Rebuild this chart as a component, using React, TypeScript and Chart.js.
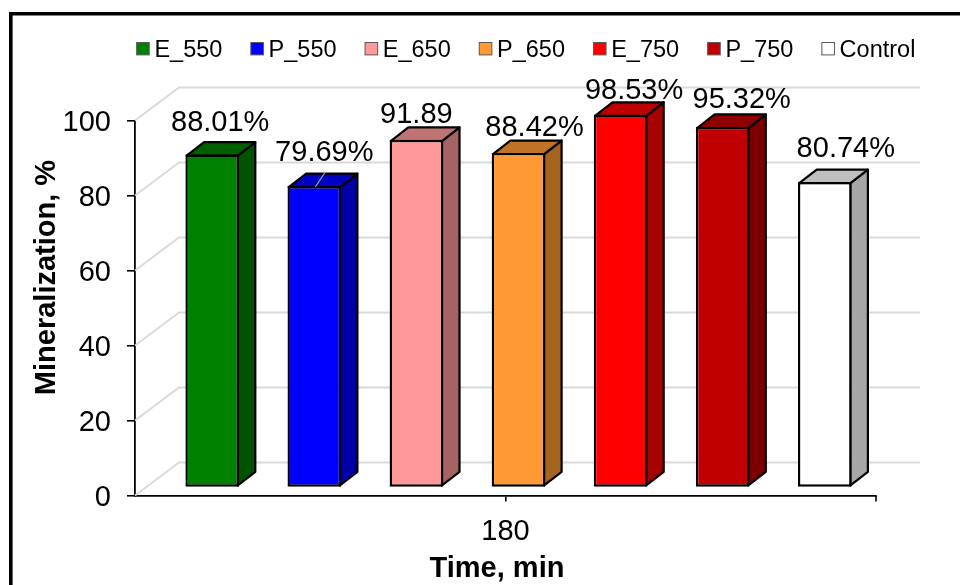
import React, { useEffect, useRef } from "react";
import { Chart, registerables } from "chart.js";

Chart.register(...registerables);

const categories = ["180"];
const seriesNames = ["E_550", "P_550", "E_650", "P_650", "E_750", "P_750", "Control"];
const seriesValues = [88.01, 79.69, 91.89, 88.42, 98.53, 95.32, 80.74];
const valueLabels = ["88.01%", "79.69%", "91.89", "88.42%", "98.53%", "95.32%", "80.74%"];
const frontColors = ["#008000", "#0000FF", "#FF9999", "#FF9933", "#FF0000", "#C00000", "#FFFFFF"];
const topColors = ["#006000", "#0000C0", "#C07373", "#BF7326", "#BF0000", "#900000", "#BFBFBF"];
const sideColors = ["#005300", "#0000A6", "#A66363", "#A66421", "#A60000", "#7D0000", "#A6A6A6"];
const labelShiftX = [8, 10, 0, 16, 13.5, 19, 21];
const labelShiftY = [-32, -34, -26, -26, -25, -28, -34];
const yTicks = [0, 20, 40, 60, 80, 100];

const FONT = "'Liberation Sans', Arial, sans-serif";
const BAR_DX = 13;
const BAR_DY = 8;
const BAR_K = 1.009;
const DEPTH_X = 17.5;
const DEPTH_Y = 13.5;
const WALL_X = 44;
const WALL_Y = 33;
const LEGEND_SHIFT = 46;
const LEGEND_PAD = 28.5;
const LEGEND_FONT = 23.5;

function barTransform(ctx: CanvasRenderingContext2D, base: number) {
  ctx.translate(BAR_DX, -BAR_DY);
  ctx.translate(0, base);
  ctx.scale(1, BAR_K);
  ctx.translate(0, -base);
}

const pseudo3d = {
  id: "pseudo3d",
  beforeLayout(chart: any) {
    const legend = chart.legend;
    if (legend && !legend.__sized) {
      legend.__sized = true;
      const orig = legend.fit.bind(legend);
      legend.fit = () => {
        orig();
        legend.height = 110.25;
      };
    }
  },
  afterLayout(chart: any) {
    const legend = chart.legend;
    legend.left = LEGEND_SHIFT;
    legend.right = chart.width + LEGEND_SHIFT;
    const y = chart.scales.y;
    const x = chart.scales.x;
    if (!y.__titled) {
      y.__titled = true;
      const oy = y.drawTitle.bind(y);
      y.drawTitle = () => {
        const { top, bottom } = y;
        y.top = top - 30.5;
        y.bottom = bottom - 30.5;
        oy();
        y.top = top;
        y.bottom = bottom;
      };
      const oyl = y.drawLabels.bind(y);
      y.drawLabels = (area: any) => {
        chart.ctx.save();
        chart.ctx.translate(0, 2.5);
        oyl(area);
        chart.ctx.restore();
      };
      const ox = x.drawTitle.bind(x);
      x.drawTitle = () => {
        const { left, right, bottom } = x;
        x.left = left - 8.5;
        x.right = right - 8.5;
        x.bottom = bottom + 3;
        ox();
        x.left = left;
        x.right = right;
        x.bottom = bottom;
      };
    }
  },
  beforeDraw(chart: any) {
    const { ctx, width, height } = chart;
    ctx.save();
    ctx.strokeStyle = "#000";
    ctx.lineWidth = 3.6;
    ctx.lineCap = "butt";
    ctx.beginPath();
    ctx.moveTo(10.8, height);
    ctx.lineTo(10.8, 13.8);
    ctx.lineTo(width, 13.8);
    ctx.stroke();
    ctx.restore();
  },
  beforeDatasetsDraw(chart: any) {
    const { ctx, chartArea, scales } = chart;
    ctx.save();
    ctx.strokeStyle = "#D9D9D9";
    ctx.lineWidth = 1.8;
    yTicks.forEach((v) => {
      const py = scales.y.getPixelForValue(v);
      ctx.beginPath();
      ctx.moveTo(chartArea.left, py);
      ctx.lineTo(chartArea.left + WALL_X, py - WALL_Y);
      ctx.lineTo(chartArea.right + WALL_X, py - WALL_Y);
      ctx.stroke();
    });
    ctx.restore();
  },
  beforeDatasetDraw(chart: any, args: any) {
    const { ctx } = chart;
    const i = args.index;
    const bar = args.meta.data[0].getProps(["x", "y", "base", "width"], true);
    ctx.save();
    barTransform(ctx, bar.base);
    const x1 = bar.x - bar.width / 2 + 1.2;
    const x2 = bar.x + bar.width / 2 - 1.2;
    const t = bar.y + 1.2;
    const b = bar.base - 1.2;
    ctx.lineWidth = 2.2;
    ctx.strokeStyle = "#000";
    ctx.lineJoin = "round";
    ctx.fillStyle = sideColors[i];
    ctx.beginPath();
    ctx.moveTo(x2, t);
    ctx.lineTo(x2 + DEPTH_X, t - DEPTH_Y);
    ctx.lineTo(x2 + DEPTH_X, b - DEPTH_Y);
    ctx.lineTo(x2, b);
    ctx.closePath();
    ctx.fill();
    ctx.stroke();
    ctx.fillStyle = topColors[i];
    ctx.beginPath();
    ctx.moveTo(x1, t);
    ctx.lineTo(x1 + DEPTH_X, t - DEPTH_Y);
    ctx.lineTo(x2 + DEPTH_X, t - DEPTH_Y);
    ctx.lineTo(x2, t);
    ctx.closePath();
    ctx.fill();
    ctx.stroke();
  },
  afterDatasetDraw(chart: any) {
    chart.ctx.restore();
  },
  afterDatasetsDraw(chart: any) {
    const { ctx, chartArea } = chart;
    ctx.save();
    // leader line of the one displaced label
    const lead = chart.getDatasetMeta(1).data[0].getProps(["x", "y", "base"], true);
    const leadTop = lead.base - BAR_DY + (lead.y - lead.base) * BAR_K;
    ctx.strokeStyle = "#A6A6A6";
    ctx.lineWidth = 1.2;
    ctx.beginPath();
    ctx.moveTo(lead.x + BAR_DX + 1, leadTop + 1);
    ctx.lineTo(lead.x + BAR_DX + 11, leadTop - 14);
    ctx.stroke();
    // value labels
    ctx.fillStyle = "#000";
    ctx.font = `29px ${FONT}`;
    ctx.textAlign = "center";
    ctx.textBaseline = "middle";
    seriesValues.forEach((_, i) => {
      const bar = chart.getDatasetMeta(i).data[0].getProps(["x", "y", "base"], true);
      const top = bar.base - BAR_DY + (bar.y - bar.base) * BAR_K;
      ctx.fillText(valueLabels[i], bar.x + BAR_DX + labelShiftX[i], top + labelShiftY[i] + 1);
    });
    // tick at the right end of the category axis
    ctx.strokeStyle = "#000";
    ctx.lineWidth = 1.6;
    ctx.beginPath();
    ctx.moveTo(chartArea.right, chartArea.bottom);
    ctx.lineTo(chartArea.right, chartArea.bottom + 6);
    ctx.stroke();
    // legend swatches, placed from the positions the legend computed
    ctx.lineWidth = 1;
    ctx.strokeStyle = "#595959";
    const cy = chart.legend.top + LEGEND_PAD + LEGEND_FONT / 2 - 1.8;
    chart.legend.legendHitBoxes.forEach((hb: any, i: number) => {
      ctx.fillStyle = frontColors[i];
      ctx.fillRect(hb.left, cy - 6.2, 12.6, 12.4);
      ctx.strokeRect(hb.left, cy - 6.2, 12.6, 12.4);
    });
    ctx.restore();
  },
};

export default function App() {
  const ref = useRef<HTMLCanvasElement>(null);
  useEffect(() => {
    const chart: any = new Chart(ref.current!, {
      type: "bar",
      data: {
        labels: categories,
        datasets: seriesNames.map((name, i) => ({
          label: name,
          data: [seriesValues[i]],
          backgroundColor: frontColors[i],
          borderColor: "#000",
          borderWidth: 2.4,
          borderSkipped: false,
          clip: false,
        })),
      } as any,
      options: {
        responsive: false,
        animation: false,
        devicePixelRatio: 1,
        categoryPercentage: 0.9645,
        barPercentage: 0.525,
        layout: { padding: { left: 0, right: 84, top: 10.25, bottom: 0 } },
        plugins: {
          tooltip: { enabled: false },
          legend: {
            position: "top",
            labels: {
              boxWidth: 6,
              boxHeight: 6,
              padding: LEGEND_PAD,
              color: "#000",
              font: { family: FONT, size: LEGEND_FONT },
              generateLabels: (c: any) =>
                c.data.datasets.map((d: any, i: number) => ({
                  text: d.label,
                  fillStyle: "transparent",
                  strokeStyle: "transparent",
                  lineWidth: 0,
                  hidden: false,
                  datasetIndex: i,
                })),
            },
          },
        },
        scales: {
          x: {
            offset: true,
            afterFit: (s: any) => {
              s.height = 89.5;
            },
            grid: { offset: false, drawOnChartArea: false, drawTicks: true, tickLength: 6, color: "#000", lineWidth: 1.6 },
            border: { display: true, color: "#000", width: 1.8 },
            ticks: { color: "#000", font: { family: FONT, size: 29 }, padding: 13, maxRotation: 0 },
            title: {
              display: true,
              text: "Time, min",
              color: "#000",
              font: { family: FONT, size: 29, weight: "bold" },
              padding: { top: 0, bottom: 2 },
            },
          },
          y: {
            min: 0,
            max: 100,
            afterFit: (s: any) => {
              s.width = 135;
            },
            afterBuildTicks: (s: any) => {
              s.ticks = yTicks.map((value) => ({ value }));
            },
            grid: { drawOnChartArea: false, drawTicks: true, tickLength: 8, color: "#000", lineWidth: 1.6 },
            border: { display: true, color: "#000", width: 1.8 },
            ticks: { color: "#000", font: { family: FONT, size: 29 }, padding: 16 },
            title: {
              display: true,
              text: "Mineralization, %",
              color: "#000",
              font: { family: FONT, size: 29, weight: "bold" },
              padding: { top: 30, bottom: 0 },
            },
          },
        },
      } as any,
      plugins: [pseudo3d as any],
    });
    return () => chart.destroy();
  }, []);
  return (
    <canvas
      ref={ref}
      width={960}
      height={585}
      style={{ position: "fixed", left: 0, top: 0, display: "block", background: "#fff" }}
    />
  );
}
